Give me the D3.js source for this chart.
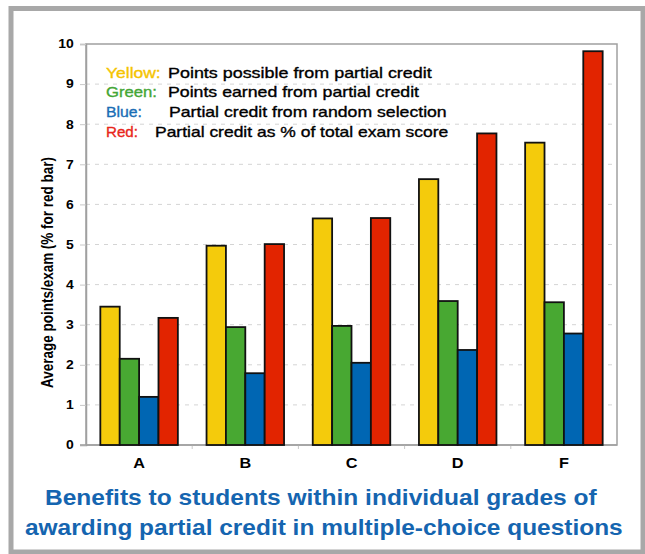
<!DOCTYPE html>
<html>
<head>
<meta charset="utf-8">
<script src="https://cdn.jsdelivr.net/npm/d3@7"></script>
<style>
  body { margin: 0; background: #fff; }
  svg { display: block; font-family: "Liberation Sans", Arial, Helvetica, sans-serif; }
</style>
</head>
<body>
<div class="chart"></div>
<script>
// data
const grades = ["A", "B", "C", "D", "F"];
const yellow = [3.45, 4.97, 5.65, 6.63, 7.54];
const green = [2.15, 2.94, 2.97, 3.59, 3.56];
const blue = [1.2, 1.79, 2.05, 2.37, 2.78];
const red = [3.17, 5.01, 5.66, 7.77, 9.82];
const yTicks = [0, 1, 2, 3, 4, 5, 6, 7, 8, 9, 10];

const seriesNames = ["yellow", "green", "blue", "red"];
const seriesValues = [yellow, green, blue, red];
const colors = { yellow: "#f4cb0c", green: "#48a832", blue: "#0066b3", red: "#e22400" };

const legendLabels = ["Yellow:", "Green:", "Blue:", "Red:"];
const legendTexts = [
    "Points possible from partial credit",
    "Points earned from partial credit",
    "Partial credit from random selection",
    "Partial credit as % of total exam score"
];
const legendLabelColors = ["#f5c400", "#44a635", "#1a6db5", "#e8261b"];
const titleLines = [
    "Benefits to students within individual grades of",
    "awarding partial credit in multiple-choice questions"
];

// the original picture is a bit wider than tall, text looks stretched
const stretch = 1.16;

const W = 645, H = 554;
const margin = { top: 44, right: 28, bottom: 109, left: 86 };
const width = W - margin.left - margin.right,
    height = H - margin.top - margin.bottom;

const root = d3.select(".chart").append("svg")
    .attr("width", W)
    .attr("height", H);

// outer frame
root.append("rect")
    .attr("x", 11).attr("y", 8.5)
    .attr("width", 632).attr("height", 543.5)
    .attr("fill", "none")
    .attr("stroke", "#a8a8a8")
    .attr("stroke-width", 5);

const svg = root.append("g")
    .attr("transform", `translate(${margin.left}, ${margin.top})`);

const xScale = d3.scaleBand().domain(grades).range([0, width]);
const xInner = d3.scaleBand().domain(seriesNames)
    .range([0, xScale.bandwidth()]).paddingOuter(0.74);
const yScale = d3.scaleLinear().domain([0, 10]).range([height, 0]);

// gridlines
svg.append("g")
    .selectAll("line")
    .data(yTicks.filter(d => d > 0 && d < 10))
    .join("line")
    .attr("x1", 0).attr("x2", width)
    .attr("y1", d => yScale(d)).attr("y2", d => yScale(d))
    .attr("stroke", "#d4d4d4")
    .attr("stroke-dasharray", "4,5");

// plot border
svg.append("rect")
    .attr("width", width).attr("height", height)
    .attr("fill", "none")
    .attr("stroke", "#a0a0a0")
    .attr("stroke-width", 1.5);

// y axis
const yAxis = svg.append("g")
    .call(d3.axisLeft(yScale).tickValues(yTicks).tickSize(6).tickPadding(4.5));
yAxis.select(".domain").attr("stroke", "#a0a0a0").attr("stroke-width", 1.5);
yAxis.selectAll(".tick line").attr("stroke", "#c8c8c8");
yAxis.selectAll("text")
    .attr("font-size", 12).attr("font-weight", "bold").attr("fill", "#000")
    .attr("font-family", "'Liberation Sans', Arial, sans-serif")
    .attr("transform", `scale(${stretch},1)`);

// x axis
const xAxis = svg.append("g")
    .attr("transform", `translate(0, ${height})`)
    .call(d3.axisBottom(xScale).tickSize(0).tickPadding(13));
xAxis.select(".domain").remove();
xAxis.selectAll("text")
    .attr("font-size", 14).attr("font-weight", "bold").attr("fill", "#000")
    .attr("font-family", "'Liberation Sans', Arial, sans-serif")
    .attr("transform", `scale(${stretch},1)`);
// small ticks between groups
svg.append("g")
    .selectAll("line")
    .data(grades.slice(1))
    .join("line")
    .attr("x1", d => xScale(d)).attr("x2", d => xScale(d))
    .attr("y1", height).attr("y2", height + 4)
    .attr("stroke", "#c8c8c8");
svg.append("line")
    .attr("x1", -6).attr("x2", width)
    .attr("y1", height).attr("y2", height)
    .attr("stroke", "#a0a0a0").attr("stroke-width", 1.5);

// bars
const rows = [];
grades.forEach((g, i) => {
    seriesNames.forEach((s, j) => rows.push({ grade: g, key: s, value: seriesValues[j][i] }));
});

svg.append("g")
    .selectAll("rect")
    .data(rows)
    .join("rect")
    .attr("x", d => xScale(d.grade) + xInner(d.key))
    .attr("y", d => yScale(d.value))
    .attr("width", xInner.bandwidth())
    .attr("height", d => height - yScale(d.value))
    .attr("fill", d => colors[d.key])
    .attr("stroke", "#111")
    .attr("stroke-width", 1.8);

// y axis title
root.append("text")
    .attr("transform", `translate(53, 272.5) scale(${stretch},1) rotate(-90)`)
    .attr("text-anchor", "middle")
    .attr("font-size", 14)
    .attr("font-weight", "bold")
    .attr("textLength", 231)
    .attr("lengthAdjust", "spacingAndGlyphs")
    .text("Average points/exam (% for red bar)");

// legend
const labelWidths = [54.7, 51, 36, 32];
const textStarts = [168, 168, 169, 155];
const textWidths = [263.7, 251, 277.7, 293.3];
const legend = root.append("g").attr("font-size", 15);
legendLabels.forEach((lab, i) => {
    const yy = 77.5 + i * 19.7;
    legend.append("text")
        .attr("x", 106).attr("y", yy)
        .attr("fill", legendLabelColors[i])
        .attr("stroke", legendLabelColors[i]).attr("stroke-width", 0.35)
        .attr("textLength", labelWidths[i])
        .attr("lengthAdjust", "spacingAndGlyphs")
        .text(lab);
    legend.append("text")
        .attr("x", textStarts[i]).attr("y", yy)
        .attr("fill", "#000")
        .attr("stroke", "#000").attr("stroke-width", 0.35)
        .attr("textLength", textWidths[i])
        .attr("lengthAdjust", "spacingAndGlyphs")
        .text(legendTexts[i]);
});

// title
const titleStarts = [45, 25];
const titleWidths = [551.7, 597.7];
root.append("g")
    .selectAll("text")
    .data(titleLines)
    .join("text")
    .attr("x", (d, i) => titleStarts[i])
    .attr("y", (d, i) => 505 + i * 30)
    .attr("font-size", 21.5)
    .attr("font-weight", "bold")
    .attr("fill", "#1565b0")
    .attr("textLength", (d, i) => titleWidths[i])
    .attr("lengthAdjust", "spacingAndGlyphs")
    .text(d => d);
</script>
</body>
</html>
